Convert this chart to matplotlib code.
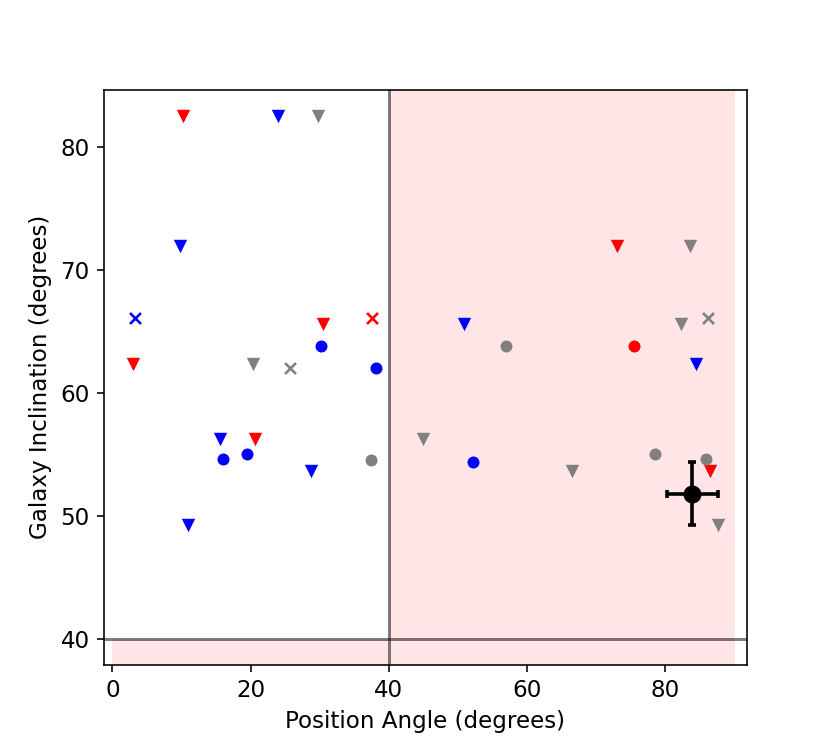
import matplotlib
matplotlib.use("Agg")
import matplotlib.pyplot as plt

plt.rcParams['font.size'] = 11.5

# Data (position angle, inclination)
red_tri_x = [10.2, 73.0, 30.4, 3.0, 20.7, 86.5]
red_tri_y = [82.5, 71.9, 65.6, 62.3, 56.2, 53.6]
blue_tri_x = [23.9, 9.8, 50.8, 84.4, 15.6, 28.8, 11.0]
blue_tri_y = [82.5, 71.9, 65.6, 62.3, 56.2, 53.6, 49.2]
gray_tri_x = [29.7, 83.6, 82.3, 20.3, 45.0, 66.5, 87.6]
gray_tri_y = [82.5, 71.9, 65.6, 62.3, 56.2, 53.6, 49.2]

blue_dot_x = [30.2, 38.1, 16.0, 19.4, 52.2]
blue_dot_y = [63.8, 62.0, 54.6, 55.0, 54.4]
gray_dot_x = [56.9, 37.4, 78.5, 85.8]
gray_dot_y = [63.8, 54.5, 55.0, 54.6]
red_dot_x = [75.4]
red_dot_y = [63.8]

blue_x_x = [3.3]
blue_x_y = [66.1]
red_x_x = [37.5]
red_x_y = [66.1]
gray_x_x = [25.7, 86.1]
gray_x_y = [62.0, 66.1]

ref_x, ref_y = 83.9, 51.8
ref_xerr, ref_yerr = 3.7, 2.6

pa_cut = 40
inc_cut = 40
pa_max = 90

fig = plt.figure(figsize=(830/144, 747/144), dpi=144)
ax = fig.add_subplot(111)

xlim = (-1.25, 91.8)
ylim = (37.875, 84.625)

# shaded excluded regions
ax.fill_between([pa_cut, pa_max], ylim[0], ylim[1], color='red', alpha=0.1, lw=0, zorder=0)
ax.fill_between([0, pa_cut], ylim[0], inc_cut, color='red', alpha=0.1, lw=0, zorder=0)

ax.axvline(pa_cut, color='k', alpha=0.5, lw=1.5, zorder=1)
ax.axhline(inc_cut, color='k', alpha=0.5, lw=1.5, zorder=1)

ax.scatter(red_tri_x, red_tri_y, marker='v', color='red', s=45, zorder=3, linewidths=0)
ax.scatter(blue_tri_x, blue_tri_y, marker='v', color='blue', s=45, zorder=3, linewidths=0)
ax.scatter(gray_tri_x, gray_tri_y, marker='v', color='gray', s=45, zorder=3, linewidths=0)

ax.scatter(blue_dot_x, blue_dot_y, marker='o', color='blue', s=36, zorder=3, linewidths=0)
ax.scatter(gray_dot_x, gray_dot_y, marker='o', color='gray', s=36, zorder=3, linewidths=0)
ax.scatter(red_dot_x, red_dot_y, marker='o', color='red', s=36, zorder=3, linewidths=0)

ax.scatter(blue_x_x, blue_x_y, marker='x', color='blue', s=30, zorder=3, linewidths=1.3)
ax.scatter(red_x_x, red_x_y, marker='x', color='red', s=30, zorder=3, linewidths=1.3)
ax.scatter(gray_x_x, gray_x_y, marker='x', color='gray', s=30, zorder=3, linewidths=1.3)

ax.errorbar([ref_x], [ref_y], xerr=[ref_xerr], yerr=[ref_yerr], fmt='o', color='k',
            ms=8, elinewidth=1.8, capsize=2.2, capthick=1.8, zorder=4)

ax.set_xlim(*xlim)
ax.set_ylim(*ylim)
ax.set_xticks([0, 20, 40, 60, 80])
ax.set_yticks([40, 50, 60, 70, 80])
ax.set_xlabel('Position Angle (degrees)')
ax.set_ylabel('Galaxy Inclination (degrees)')

fig.savefig('out.png', dpi=144)
